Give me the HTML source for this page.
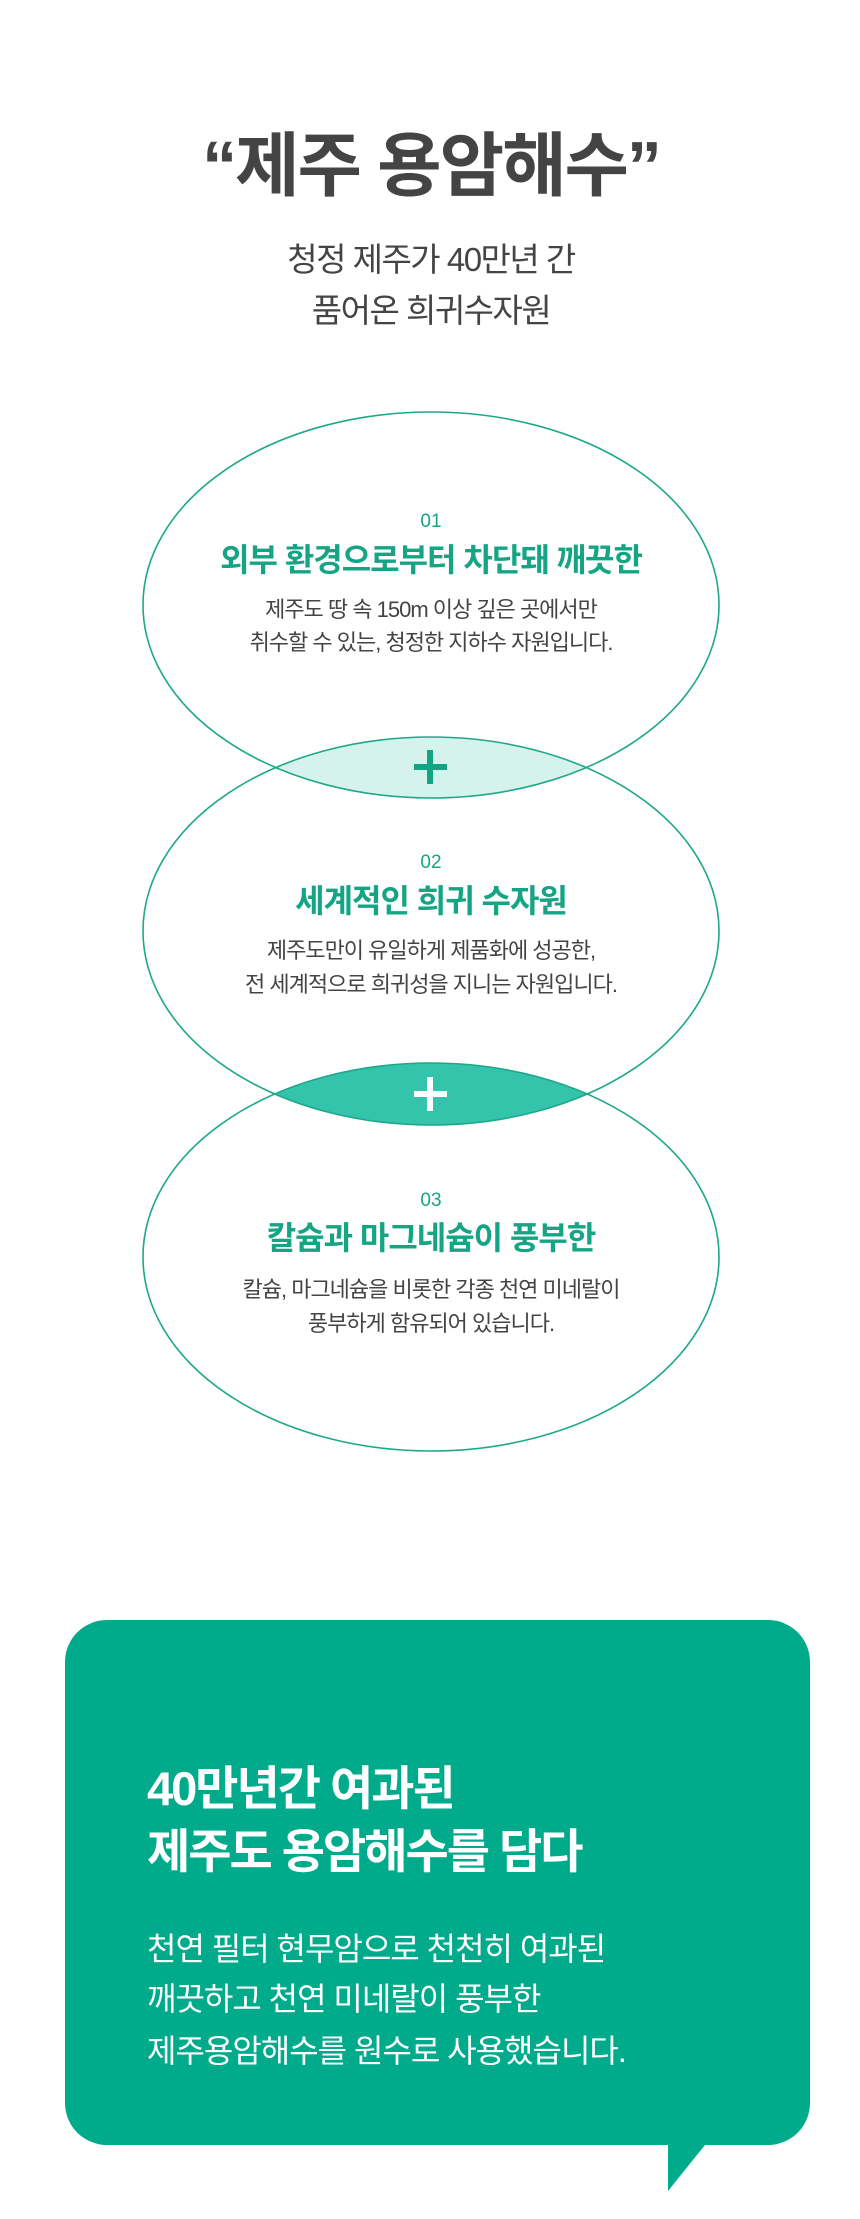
<!DOCTYPE html>
<html><head><meta charset="utf-8"><style>
html,body{margin:0;padding:0;background:#fff;}
body{width:860px;height:2219px;overflow:hidden;}
svg{display:block;}
text{font-family:"Liberation Sans","Noto Sans CJK KR",sans-serif;}
</style></head><body>
<svg width="860" height="2219" viewBox="0 0 860 2219" xmlns="http://www.w3.org/2000/svg">
<defs>
<clipPath id="c1"><ellipse cx="431" cy="605" rx="288" ry="193"/></clipPath>
<clipPath id="c2"><ellipse cx="431" cy="931" rx="288" ry="194"/></clipPath>
</defs>
<text x="431" y="190" text-anchor="middle" font-size="70" font-weight="bold" fill="#444" letter-spacing="-2">“제주 용암해수”</text>
<text x="431" y="271" text-anchor="middle" font-size="33" fill="#444" letter-spacing="-1.5">청정 제주가 40만년 간</text>
<text x="431" y="322" text-anchor="middle" font-size="33" fill="#444" letter-spacing="-1.5">품어온 희귀수자원</text>

<ellipse cx="431" cy="931" rx="288" ry="194" fill="#d6f2ec" clip-path="url(#c1)"/>
<ellipse cx="431" cy="1257" rx="288" ry="194" fill="#33c4ab" clip-path="url(#c2)"/>
<g fill="none" stroke="#1ea88a" stroke-width="1.6">
<ellipse cx="431" cy="605" rx="288" ry="193"/>
<ellipse cx="431" cy="931" rx="288" ry="194"/>
<ellipse cx="431" cy="1257" rx="288" ry="194"/>
</g>
<g stroke="#12a584" stroke-width="6"><line x1="414" y1="767" x2="447" y2="767"/><line x1="430" y1="750" x2="430" y2="784"/></g>
<g stroke="#fff" stroke-width="6"><line x1="414" y1="1094" x2="447" y2="1094"/><line x1="430" y1="1077" x2="430" y2="1111"/></g>

<g text-anchor="middle">
<text x="431" y="527" font-size="19" fill="#15a584">01</text>
<text x="431" y="571" font-size="32" font-weight="bold" fill="#15a584" letter-spacing="-1">외부 환경으로부터 차단돼 깨끗한</text>
<text x="431" y="617" font-size="22" fill="#444" letter-spacing="-1">제주도 땅 속 150m 이상 깊은 곳에서만</text>
<text x="431" y="650" font-size="22" fill="#444" letter-spacing="-1">취수할 수 있는, 청정한 지하수 자원입니다.</text>

<text x="431" y="868" font-size="19" fill="#15a584">02</text>
<text x="431" y="912" font-size="32" font-weight="bold" fill="#15a584" letter-spacing="-1">세계적인 희귀 수자원</text>
<text x="431" y="958" font-size="22" fill="#444" letter-spacing="-1">제주도만이 유일하게 제품화에 성공한,</text>
<text x="431" y="992" font-size="22" fill="#444" letter-spacing="-1">전 세계적으로 희귀성을 지니는 자원입니다.</text>

<text x="431" y="1206" font-size="19" fill="#15a584">03</text>
<text x="431" y="1249" font-size="32" font-weight="bold" fill="#15a584" letter-spacing="-1">칼슘과 마그네슘이 풍부한</text>
<text x="431" y="1297" font-size="22" fill="#444" letter-spacing="-1">칼슘, 마그네슘을 비롯한 각종 천연 미네랄이</text>
<text x="431" y="1331" font-size="22" fill="#444" letter-spacing="-1">풍부하게 함유되어 있습니다.</text>
</g>

<rect x="65" y="1620" width="745" height="525" rx="42" fill="#00ab8c"/>
<polygon points="668,2140 709,2140 668,2191" fill="#00ab8c"/>
<text x="147" y="1805" font-size="47" font-weight="bold" fill="#fff" letter-spacing="-2">40만년간 여과된</text>
<text x="147" y="1868" font-size="47" font-weight="bold" fill="#fff" letter-spacing="-2">제주도 용암해수를 담다</text>
<text x="147" y="1960" font-size="32" fill="#fff" letter-spacing="-1">천연 필터 현무암으로 천천히 여과된</text>
<text x="147" y="2010" font-size="32" fill="#fff" letter-spacing="-1">깨끗하고 천연 미네랄이 풍부한</text>
<text x="147" y="2062" font-size="32" fill="#fff" letter-spacing="-1">제주용암해수를 원수로 사용했습니다.</text>
</svg>
</body></html>
